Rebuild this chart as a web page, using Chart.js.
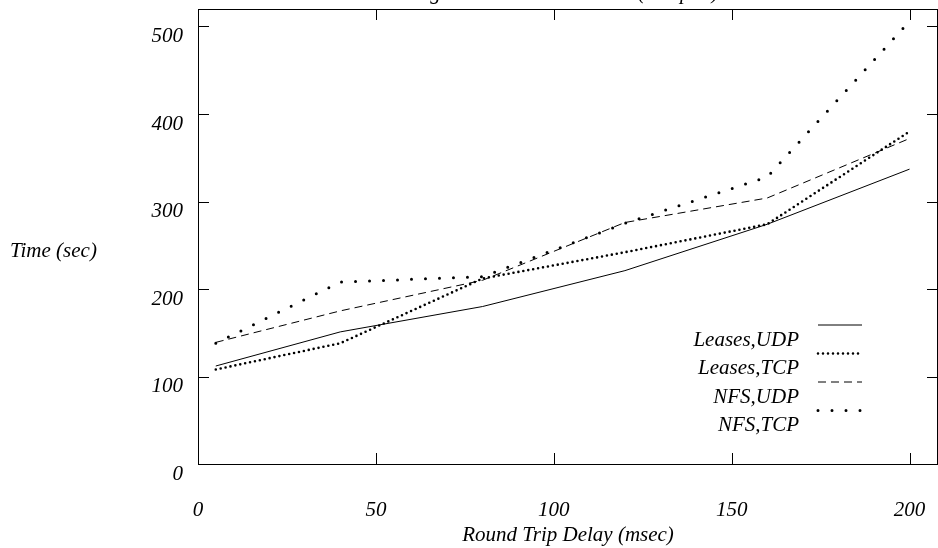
<!DOCTYPE html>
<html>
<head>
<meta charset="utf-8">
<script src="https://cdn.jsdelivr.net/npm/chart.js@4.4.1/dist/chart.umd.min.js"></script>
<style>
  html, body { margin: 0; padding: 0; background: #fff; }
  #wrap { width: 938px; height: 548px; }
</style>
</head>
<body>
<div id="wrap"><canvas id="chart"></canvas></div>
<script>
const delays = [5, 40, 80, 120, 160, 200];
const leasesUdp = [112, 151, 180, 221, 274, 337];
const leasesTcp = [108, 138, 212, 242, 274, 380];
const nfsUdp = [139, 175, 210, 276, 304, 372];
const nfsTcp = [138, 208, 214, 275, 328, 506];
const xTicks = [0, 50, 100, 150, 200];
const yTicks = [0, 100, 200, 300, 400, 500];

const FONT = '"Liberation Serif", "Times New Roman", serif';
const SIZE = 21;

const pts = ys => delays.map((x, i) => ({ x: x, y: ys[i] }));

// gnuplot-ish frame: box, inward ticks on all sides, legend, titles
const framePlugin = {
  id: 'frame',
  afterDraw(chart) {
    const { ctx, chartArea: a, scales } = chart;
    ctx.save();
    ctx.strokeStyle = '#000';
    ctx.lineWidth = 1;
    ctx.strokeRect(a.left + 0.5, a.top + 0.5, a.right - a.left - 1, a.bottom - a.top);
    const tl = 11;
    ctx.beginPath();
    scales.x.ticks.forEach(t => {
      const px = Math.round(scales.x.getPixelForValue(t.value)) + 0.5;
      ctx.moveTo(px, a.bottom); ctx.lineTo(px, a.bottom - tl);
      ctx.moveTo(px, a.top); ctx.lineTo(px, a.top + tl);
    });
    scales.y.ticks.forEach(t => {
      const py = Math.round(scales.y.getPixelForValue(t.value)) + 0.5;
      ctx.moveTo(a.left, py); ctx.lineTo(a.left + tl, py);
      ctx.moveTo(a.right, py); ctx.lineTo(a.right - tl, py);
    });
    ctx.stroke();

    ctx.fillStyle = '#000';
    ctx.font = 'italic ' + SIZE + 'px ' + FONT;
    ctx.textBaseline = 'middle';
    ctx.textAlign = 'left';
    ctx.fillText('Time (sec)', 10, 251);

    // figure caption, mostly cut off by the top edge
    ctx.textAlign = 'center';
    ctx.textBaseline = 'alphabetic';
    ctx.fillText('Figure 5: Andrew Phase 5 (compile)', 565, -1);

    // legend
    chart.data.datasets.forEach((ds, i) => {
      const ty = 340 + i * 28.5;
      const ly = 325 + i * 28.5;
      ctx.textAlign = 'right';
      ctx.textBaseline = 'middle';
      ctx.fillText(ds.label, 799, ty);
      ctx.beginPath();
      ctx.lineWidth = ds.borderWidth;
      ctx.lineCap = ds.borderCapStyle || 'butt';
      ctx.setLineDash(ds.borderDash || []);
      ctx.moveTo(818, ly); ctx.lineTo(862, ly);
      ctx.stroke();
    });
    ctx.restore();
  }
};

new Chart(document.getElementById('chart'), {
  type: 'line',
  data: {
    datasets: [
      { label: 'Leases,UDP', data: pts(leasesUdp), borderColor: '#000', borderWidth: 1 },
      { label: 'Leases,TCP', data: pts(leasesTcp), borderColor: '#000', borderWidth: 2.6,
        borderDash: [0, 5], borderCapStyle: 'round' },
      { label: 'NFS,UDP', data: pts(nfsUdp), borderColor: '#000', borderWidth: 1,
        borderDash: [8, 5] },
      { label: 'NFS,TCP', data: pts(nfsTcp), borderColor: '#000', borderWidth: 3,
        borderDash: [0, 14], borderCapStyle: 'round' }
    ]
  },
  options: {
    responsive: true,
    maintainAspectRatio: false,
    animation: false,
    layout: { padding: { left: 0, top: 9, right: 0, bottom: 0 } },
    elements: { point: { radius: 0 }, line: { tension: 0, fill: false } },
    plugins: { legend: { display: false }, tooltip: { enabled: false } },
    scales: {
      x: {
        type: 'linear',
        min: 0,
        max: 208,
        afterBuildTicks: s => { s.ticks = xTicks.map(v => ({ value: v })); },
        afterFit: s => { s.height = 84; s.paddingLeft = 0; s.paddingRight = 0; },
        grid: { display: false, drawTicks: false },
        border: { display: false },
        ticks: {
          color: '#000',
          padding: 34,
          font: { family: FONT, size: SIZE, style: 'italic' }
        },
        title: {
          display: true,
          text: 'Round Trip Delay (msec)',
          color: '#000',
          padding: { top: 0, bottom: 0 },
          font: { family: FONT, size: SIZE, style: 'italic' }
        }
      },
      y: {
        min: 0,
        max: 520,
        afterBuildTicks: s => { s.ticks = yTicks.map(v => ({ value: v })); },
        afterFit: s => { s.width = 198; s.paddingTop = 0; s.paddingBottom = 0; },
        grid: { display: false, drawTicks: false },
        border: { display: false },
        ticks: {
          color: '#000',
          crossAlign: 'near',
          labelOffset: 10,
          padding: 15,
          font: { family: FONT, size: SIZE, style: 'italic' }
        }
      }
    }
  },
  plugins: [framePlugin]
});
</script>
</body>
</html>
